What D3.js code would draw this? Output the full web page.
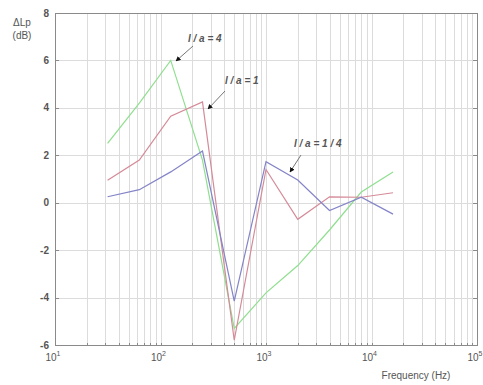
<!DOCTYPE html>
<html><head><meta charset="utf-8">
<script src="https://cdn.jsdelivr.net/npm/d3@7"></script>
<style>body{margin:0;background:#fff;}svg{display:block;font-family:"Liberation Sans",Arial,sans-serif;}</style>
</head><body>
<svg id="c" width="483" height="385"></svg>
<script>
const freqs = [31.5, 63, 125, 250, 500, 1000, 2000, 4000, 8000, 16000];
const la4 = [2.5, 4.2, 6.0, 1.8, -5.3, -3.8, -2.65, -1.15, 0.45, 1.3];
const la1 = [0.95, 1.8, 3.65, 4.25, -5.8, 1.4, -0.7, 0.25, 0.23, 0.42];
const la14 = [0.25, 0.55, 1.3, 2.18, -4.15, 1.73, 0.96, -0.33, 0.23, -0.48];
const yTicks = [-6, -4, -2, 0, 2, 4, 6, 8];
const xDecades = [1, 2, 3, 4, 5];
const seriesNames = ["l / a = 4", "l / a = 1", "l / a = 1 / 4"];

const svg = d3.select("#c");
const L = 55, R = 477, T = 13, B = 345;
const x = d3.scaleLog().domain([10, 100000]).range([L, R]);
const y = d3.scaleLinear().domain([-6, 8]).range([B, T]);

// grid
const minor = [];
for (let d = 1; d < 5; d++) for (let m = 1; m <= 9; m++) minor.push(m * Math.pow(10, d));
minor.push(100000);
const g = svg.append("g");
g.selectAll(".vg").data(minor).join("line")
  .attr("x1", d => Math.round(x(d)) + 0.5).attr("x2", d => Math.round(x(d)) + 0.5)
  .attr("y1", T).attr("y2", B)
  .attr("stroke", "#dcdcdc").attr("stroke-width", 1);
g.selectAll(".hg").data(yTicks).join("line")
  .attr("x1", L).attr("x2", R)
  .attr("y1", d => Math.round(y(d)) + 0.5).attr("y2", d => Math.round(y(d)) + 0.5)
  .attr("stroke", "#dcdcdc").attr("stroke-width", 1);

// lines
const line = d3.line().x((d, i) => x(freqs[i])).y(d => y(d));
const colors = ["#8fdf8f", "#d58a98", "#8484c8"];
[la4, la1, la14].forEach((s, k) => {
  svg.append("path").datum(s).attr("d", line)
    .attr("fill", "none").attr("stroke", colors[k]).attr("stroke-width", 1.2);
});

// box
svg.append("rect").attr("x", L + 0.5).attr("y", T + 0.5).attr("width", R - L).attr("height", B - T)
  .attr("fill", "none").attr("stroke", "#8a8a8a").attr("stroke-width", 1);

// ticks
svg.selectAll(".yt").data(yTicks).join("line")
  .attr("x1", L).attr("x2", L + 4)
  .attr("y1", d => Math.round(y(d)) + 0.5).attr("y2", d => Math.round(y(d)) + 0.5)
  .attr("stroke", "#8a8a8a");
svg.selectAll(".yt2").data(yTicks).join("line")
  .attr("x1", R - 4).attr("x2", R)
  .attr("y1", d => Math.round(y(d)) + 0.5).attr("y2", d => Math.round(y(d)) + 0.5)
  .attr("stroke", "#8a8a8a");
svg.selectAll(".xt").data(minor).join("line")
  .attr("x1", d => Math.round(x(d)) + 0.5).attr("x2", d => Math.round(x(d)) + 0.5)
  .attr("y1", B - 2).attr("y2", B)
  .attr("stroke", "#8a8a8a");

// tick labels
svg.selectAll(".yl").data(yTicks).join("text")
  .attr("x", L - 6).attr("y", d => y(d) + 3.5)
  .attr("text-anchor", "end").attr("font-size", 10).attr("font-weight", "bold")
  .attr("fill", "#555").text(d => d);
const xl = svg.selectAll(".xl").data(xDecades).join("text")
  .attr("x", d => x(Math.pow(10, d)) - 2).attr("y", B + 16)
  .attr("text-anchor", "middle").attr("font-size", 10).attr("fill", "#555");
xl.append("tspan").text("10");
xl.append("tspan").attr("dy", -5).attr("font-size", 7).text(d => d);

// axis titles
svg.append("text").attr("x", 22).attr("y", 26).attr("text-anchor", "middle")
  .attr("font-size", 10).attr("fill", "#555").text("ΔLp");
svg.append("text").attr("x", 22).attr("y", 39).attr("text-anchor", "middle")
  .attr("font-size", 10).attr("fill", "#555").text("(dB)");
svg.append("text").attr("x", 416).attr("y", 379).attr("text-anchor", "middle")
  .attr("font-size", 10).attr("fill", "#555").text("Frequency (Hz)");

// annotations
svg.append("defs").append("marker").attr("id", "ah").attr("viewBox", "0 0 10 10")
  .attr("refX", 9).attr("refY", 5).attr("markerWidth", 5).attr("markerHeight", 5)
  .attr("orient", "auto").append("path").attr("d", "M0,0L10,5L0,10z").attr("fill", "#111");
const ann = [
  {t: seriesNames[0], tx: 188, ty: 42, x1: 193, y1: 46, x2: 176, y2: 61},
  {t: seriesNames[1], tx: 225, ty: 84, x1: 225, y1: 91, x2: 208, y2: 109},
  {t: seriesNames[2], tx: 294, ty: 147, x1: 301, y1: 155, x2: 290, y2: 172}
];
ann.forEach(a => {
  svg.append("text").attr("x", a.tx).attr("y", a.ty).attr("font-size", 10)
    .attr("font-style", "italic").attr("font-weight", "bold").attr("fill", "#555").text(a.t);
  svg.append("line").attr("x1", a.x1).attr("y1", a.y1).attr("x2", a.x2).attr("y2", a.y2)
    .attr("stroke", "#777").attr("stroke-width", 1).attr("marker-end", "url(#ah)");
});
</script>
</body></html>
